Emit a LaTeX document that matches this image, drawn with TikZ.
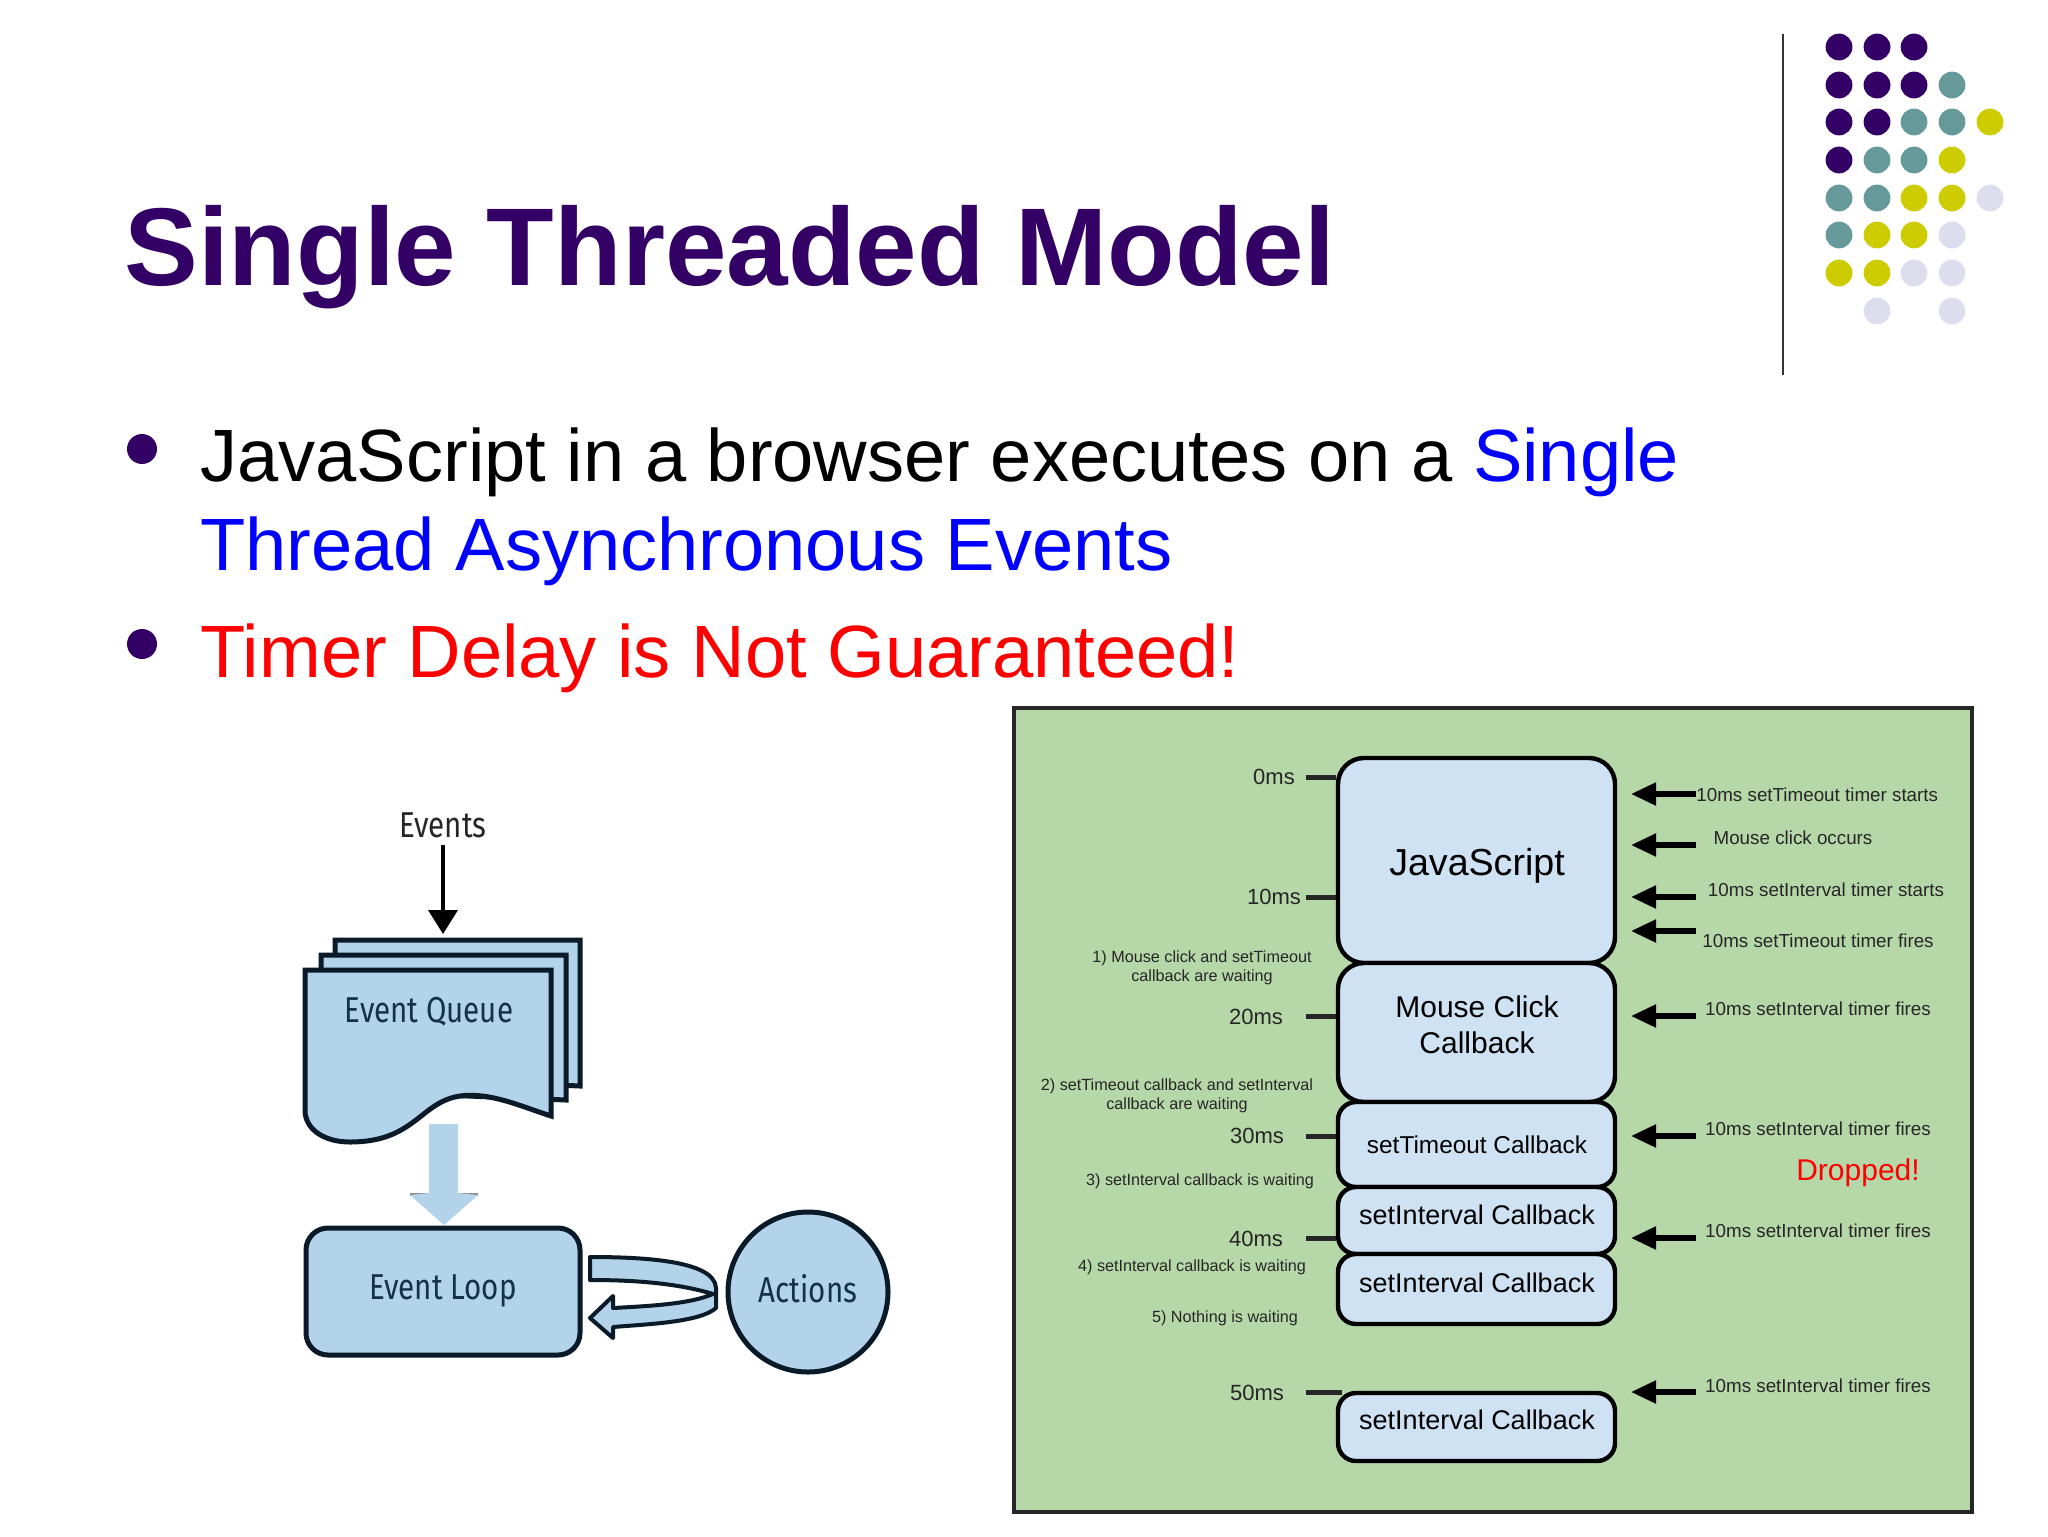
\documentclass[tikz,border=0pt]{standalone}
\usepackage{fontspec}
\setmainfont{Liberation Sans}
\newfontfamily\condfont[FakeStretch=0.82]{Fira Sans}
\usetikzlibrary{arrows.meta,shapes.geometric}
\definecolor{plum}{HTML}{330066}
\definecolor{teal2}{HTML}{669999}
\definecolor{olive2}{HTML}{CCCC00}
\definecolor{lav}{HTML}{DDDDEE}
\definecolor{grn}{HTML}{B6D7A8}
\definecolor{pale}{HTML}{CFE2F3}
\definecolor{sky}{HTML}{B2D3EA}
\definecolor{ink}{HTML}{0A1A28}
\definecolor{slink}{HTML}{15304A}
\newcommand{\fsz}[1]{\fontsize{#1}{#1}\selectfont}
\tikzset{
  x=0.5pt,y=-0.5pt,
  dot/.style={circle,minimum size=13.4pt,inner sep=0pt,outer sep=0pt},
  title/.style={anchor=base west,inner sep=0pt,font=\fsz{55.3}\bfseries,text=plum},
  body/.style={anchor=base west,inner sep=0pt,font=\fsz{37.05}},
  stackbox/.style={draw=black,line width=2.2pt,fill=pale,rounded corners=13pt,minimum width=138.5pt,inner sep=0pt},
  boxtxt/.style={inner sep=0pt,align=center},
  tick/.style={line width=2.5pt,draw=black!85},
  evarrow/.style={line width=2.6pt,draw=black,-{Triangle[length=12.5pt,width=11pt]}},
  rlab/.style={inner sep=0pt,font=\fsz{9.4},text=black!85},
  llab/.style={inner sep=0pt,font=\fontsize{8.1}{9.5}\selectfont,text=black!85,align=center},
  tlab/.style={inner sep=0pt,font=\fsz{11},text=black!85},
  paper/.style={draw=ink,line width=2.5pt,fill=sky},
  condtxt/.style={inner sep=0pt,font=\condfont\fsz{18},text=slink},
}
\begin{document}
\begin{tikzpicture}
\useasboundingbox (0,0) rectangle (2048,1536);
\fill[white] (0,0) rectangle (2048,1536);

% decoration
\foreach \cx/\cy/\cc [count=\i] in {
 1839/47/plum,1877/47/plum,1914/47/plum,
 1839/85/plum,1877/85/plum,1914/85/plum,1952/85/teal2,
 1839/122/plum,1877/122/plum,1914/122/teal2,1952/122/teal2,1990/122/olive2,
 1839/160/plum,1877/160/teal2,1914/160/teal2,1952/160/olive2,
 1839/198/teal2,1877/198/teal2,1914/198/olive2,1952/198/olive2,1990/198/lav,
 1839/235/teal2,1877/235/olive2,1914/235/olive2,1952/235/lav,
 1839/273/olive2,1877/273/olive2,1914/273/lav,1952/273/lav,
 1877/311/lav,1952/311/lav}
 { \node[dot,fill=\cc] (d\i) at (\cx,\cy) {}; }
\coordinate (ruleA) at (1783,34);
\coordinate (ruleB) at (1783,375);
\draw[line width=1.2pt,draw=black!80] (ruleA) -- (ruleB);

% title and bullets
\node[title] (ttl) at (124,285) {Single Threaded Model};
\node[dot,minimum size=15pt,fill=plum] (b1) at (142,449) {};
\node[dot,minimum size=15pt,fill=plum] (b2) at (142,644) {};
\node[body] (l1) at (200,481) {JavaScript in a browser executes on a \textcolor{blue}{Single}};
\node[body,text=blue] (l2) at (200,570) {Thread Asynchronous Events};
\node[body,text=red] (l3) at (200,677) {Timer Delay is Not Guaranteed!};

% right figure
\node[draw=black!85,line width=1.7pt,fill=grn,minimum width=479pt,minimum height=402pt,inner sep=0pt] (panel) at (1493,1110) {};
\node[stackbox,minimum height=102.5pt] (js) at (1476.5,860.5) {};
\node[stackbox,minimum height=69.5pt] (mc) at (1476.5,1032.5) {};
\node[stackbox,minimum height=42.5pt,rounded corners=9pt] (st) at (1476.5,1144.5) {};
\node[stackbox,minimum height=33.5pt,rounded corners=9pt] (si1) at (1476.5,1220.5) {};
\node[stackbox,minimum height=35pt,rounded corners=9pt] (si2) at (1476.5,1289) {};
\node[stackbox,minimum height=34pt,rounded corners=9pt] (si3) at (1476.5,1427) {};
\node[boxtxt,font=\fsz{18.8}] (tjs) at (1477,866) {JavaScript};
\node[boxtxt,font=\fontsize{15}{18}\selectfont] (tmc) at (1477,1025) {Mouse Click\\Callback};
\node[boxtxt,font=\fsz{12.2}] (tst) at (1477,1145) {setTimeout Callback};
\node[boxtxt,font=\fsz{13.5}] (ts1) at (1477,1215) {setInterval Callback};
\node[boxtxt,font=\fsz{13.5}] (ts2) at (1477,1283) {setInterval Callback};
\node[boxtxt,font=\fsz{13.5}] (ts3) at (1477,1420) {setInterval Callback};

% time labels and ticks
\node[tlab] (t0) at (1274,777) {0ms};
\node[tlab] (t10) at (1274,897) {10ms};
\node[tlab] (t20) at (1256,1017) {20ms};
\node[tlab] (t30) at (1257,1136) {30ms};
\node[tlab] (t40) at (1256,1239) {40ms};
\node[tlab] (t50) at (1257,1393) {50ms};
\foreach \n/\yy/\bx in {a/777/js,b/897/js,c/1016/mc,d/1136/st,e/1238/si1} {
  \coordinate (tk\n) at (1306,\yy);
  \draw[tick] (tk\n) -- (tk\n -| \bx.west);
}
\coordinate (tkf) at (1306,1392);
\coordinate (tkg) at (1342,1392);
\draw[tick] (tkf) -- (tkg);

% event arrows
\foreach \n/\yy in {a/794,b/845,c/897,d/931,e/1016,f/1136,g/1238,h/1392} {
  \coordinate (ar\n) at (1696,\yy);
  \coordinate (ah\n) at (1631,\yy);
  \draw[evarrow] (ar\n) -- (ah\n);
}
\node[rlab,anchor=west] (r1) at (1696,795) {10ms setTimeout timer starts};
\node[rlab] (r2) at (1793,838) {Mouse click occurs};
\node[rlab] (r3) at (1826,890) {10ms setInterval timer starts};
\node[rlab] (r4) at (1818,941) {10ms setTimeout timer fires};
\node[rlab] (r5) at (1818,1009) {10ms setInterval timer fires};
\node[rlab] (r6) at (1818,1129) {10ms setInterval timer fires};
\node[rlab] (r7) at (1818,1231) {10ms setInterval timer fires};
\node[rlab] (r8) at (1818,1386) {10ms setInterval timer fires};
\node[inner sep=0pt,font=\fsz{15},text=red] (drop) at (1858,1173) {Dropped!};

\node[llab] (n1) at (1202,968) {1) Mouse click and setTimeout\\callback are waiting};
\node[llab] (n2) at (1177,1096) {2) setTimeout callback and setInterval\\callback are waiting};
\node[llab] (n3) at (1200,1181) {3) setInterval callback is waiting};
\node[llab] (n4) at (1192,1267) {4) setInterval callback is waiting};
\node[llab] (n5) at (1225,1318) {5) Nothing is waiting};

% left figure
\node[condtxt,text=black!85] (ev) at (443,825) {Events};
\coordinate (evtip) at (443,934);
\draw[line width=1.9pt,draw=black,-{Triangle[length=12pt,width=14.5pt]}] (443,845) -- (evtip);

\draw[paper] (335,1075) -- (335,940) -- (580,940) -- (580,1086) -- cycle;
\draw[paper] (321,1090) -- (321,955) -- (566,955) -- (566,1100) -- cycle;
\draw[paper,line join=miter] (551,1116) .. controls (520,1106) and (490,1092) .. (460,1096)
  .. controls (420,1102) and (415,1142) .. (350,1142)
  .. controls (325,1142) and (305,1130) .. (305,1110) -- (305,970) -- (551,970) -- cycle;
\node[condtxt] (eq) at (429,1012) {Event Queue};

\fill[black!45] (410,1193) -- (478,1193) -- (478,1196) -- (410,1196) -- cycle;
\fill[sky] (429,1124) -- (458,1124) -- (458,1193) -- (478,1195) -- (444,1225) -- (410,1195) -- (429,1193) -- cycle;

\node[paper,rounded corners=11pt,minimum width=137pt,minimum height=63.5pt,inner sep=0pt] (el) at (443,1291.5) {};
\node[condtxt] (elt) at (443,1291) {Event Loop};
\node[paper,circle,minimum size=80pt,inner sep=0pt] (ac) at (808,1292) {};
\node[condtxt] (act) at (808,1289) {Actions};

\draw[paper,line width=2pt,line join=round] (590,1257) .. controls (640,1257) and (715,1260) .. (716,1288)
  -- (716,1308) .. controls (700,1322) and (650,1324) .. (613,1327)
  -- (613,1338) -- (590,1318) -- (613,1296) -- (613,1308)
  .. controls (650,1306) and (690,1304) .. (713,1294)
  .. controls (680,1284) and (640,1280) .. (590,1280) -- cycle;
\end{tikzpicture}
\end{document}
